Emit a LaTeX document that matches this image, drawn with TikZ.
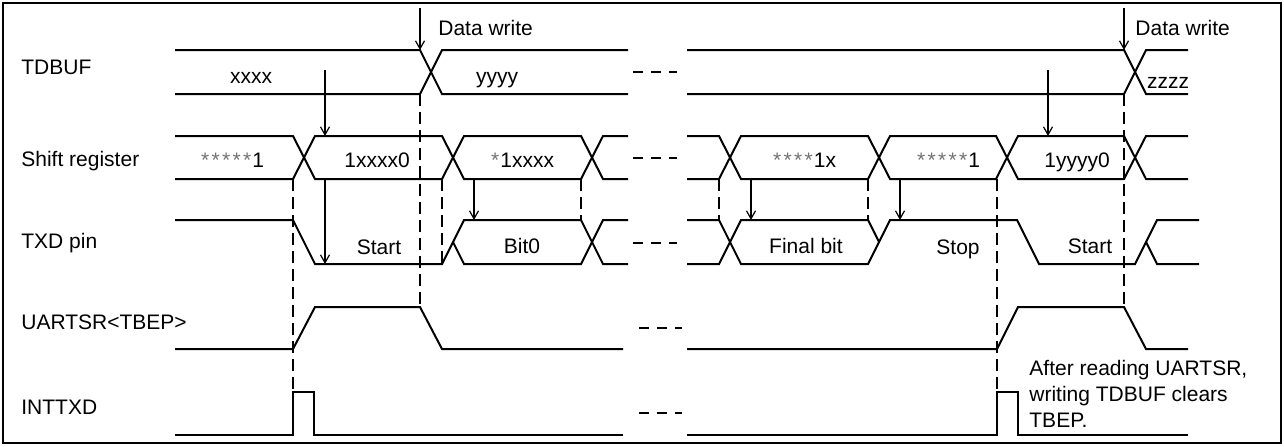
\documentclass[tikz,border=0pt]{standalone}
\usepackage{fontspec}
\setmainfont{Liberation Sans}
\usetikzlibrary{arrows.meta}
\newcommand{\srstar}{\textcolor{black!55}{\makebox[0.5em]{*}}}

\begin{document}
\begin{tikzpicture}[x=0.5pt, y=-0.5pt, font=\fontsize{10.5}{12.9}\selectfont,
    wave/.style={line width=1pt},
    guide/.style={line width=0.6pt, dash pattern=on 6pt off 3pt},
    ptr/.style={line width=0.6pt, -{Straight Barb[length=4pt,width=4.5pt]}},
    gapmark/.style={line width=1pt, dash pattern=on 5pt off 4pt},
    lbl/.style={anchor=base west, inner sep=0pt},
    val/.style={anchor=base, inner sep=0pt}]
    \useasboundingbox (0,0) rectangle (1284,446);
    \draw[line width=0.8pt] (3,3) rectangle (1281,443);
    % signal names
    \node[lbl] (nTDBUF) at (21,74) {TDBUF};
    \node[lbl] (nSR) at (21,166) {Shift register};
    \node[lbl] (nTXD) at (21,248) {TXD pin};
    \node[lbl] (nTBEP) at (21,329) {UARTSR<TBEP>};
    \node[lbl] (nINT) at (21,414) {INTTXD};
    % TDBUF
    \draw[wave] (175,50) -- (420,50) -- (442,94) -- (628,94);
    \draw[wave] (175,94) -- (420,94) -- (442,50) -- (628,50);
    \draw[gapmark] (633,72) -- (677,72);
    \draw[wave] (687,50) -- (1124,50) -- (1146,94) -- (1188,94);
    \draw[wave] (687,94) -- (1124,94) -- (1146,50) -- (1188,50);
    \node[val] (vX) at (251,83) {xxxx};
    \node[val] (vY) at (497,83) {yyyy};
    \node[val] (vZ) at (1168,88) {zzzz};
    \node[lbl] (wr1) at (438,35) {Data write};
    \node[lbl] (wr2) at (1135,35) {Data write};
    % shift register
    \draw[wave] (175,136) -- (293,136) -- (315,179) -- (442,179) -- (464,136) -- (581,136) -- (603,179) -- (628,179);
    \draw[wave] (175,179) -- (293,179) -- (315,136) -- (442,136) -- (464,179) -- (581,179) -- (603,136) -- (628,136);
    \draw[gapmark] (633,158) -- (677,158);
    \draw[wave] (687,136) -- (719,136) -- (741,179) -- (868,179) -- (890,136) -- (996,136) -- (1018,179) -- (1124,179) -- (1146,136) -- (1188,136);
    \draw[wave] (687,179) -- (719,179) -- (741,136) -- (868,136) -- (890,179) -- (996,179) -- (1018,136) -- (1124,136) -- (1146,179) -- (1188,179);
    \node[val] (s1) at (232,167) {\srstar\srstar\srstar\srstar\srstar1};
    \node[val] (s2) at (377,167) {1xxxx0};
    \node[val] (s3) at (522,167) {\srstar1xxxx};
    \node[val] (s4) at (804,167) {\srstar\srstar\srstar\srstar1x};
    \node[val] (s5) at (948,167) {\srstar\srstar\srstar\srstar\srstar1};
    \node[val] (s6) at (1077,167) {1yyyy0};
    % TXD pin
    \draw[wave] (175,220) -- (293,220) -- (315,264) -- (442,264) -- (453,242) -- (464,220) -- (581,220) -- (603,264) -- (628,264);
    \draw[wave] (453,242) -- (464,264) -- (581,264) -- (603,220) -- (628,220);
    \draw[gapmark] (633,243) -- (677,243);
    \draw[wave] (687,220) -- (719,220) -- (741,264) -- (868,264) -- (879,242) -- (890,220) -- (1017,220) -- (1039,264) -- (1135,264) -- (1146,242) -- (1157,220) -- (1199,220);
    \draw[wave] (687,264) -- (719,264) -- (741,220) -- (868,220) -- (879,242);
    \draw[wave] (1146,242) -- (1157,264) -- (1199,264);
    \node[val] (t1) at (379,254) {Start};
    \node[val] (t2) at (522,253) {Bit0};
    \node[val] (t3) at (806,253) {Final bit};
    \node[val] (t4) at (958,254) {Stop};
    \node[val] (t5) at (1090,253) {Start};
    % UARTSR<TBEP>
    \draw[wave] (175,349) -- (293,349) -- (315,307) -- (420,307) -- (442,349) -- (623,349);
    \draw[gapmark] (639,328) -- (682,328);
    \draw[wave] (687,349) -- (997,349) -- (1018,307) -- (1124,307) -- (1146,349) -- (1188,349);
    % INTTXD
    \draw[wave] (175,435) -- (293,435) -- (293,392) -- (314,392) -- (314,435) -- (623,435);
    \draw[gapmark] (639,413) -- (682,413);
    \draw[wave] (687,435) -- (997,435) -- (997,392) -- (1018,392) -- (1018,435) -- (1188,435);
    \node[anchor=north west, inner sep=0pt, align=left] (note) at (1029,360)
        {After reading UARTSR,\\writing TDBUF clears\\TBEP.};
    % timing guides
    \foreach \x/\ya/\yb in {293/179/392, 420/94/307, 442/179/264, 581/179/220,
                            719/179/220, 868/179/220, 997/179/392, 1124/94/307}{
        \draw[guide] (\x,\ya) -- (\x,\yb);
    }
    % arrows
    \draw[ptr] (420,8) -- (420,50);
    \draw[ptr] (1124,8) -- (1124,50);
    \draw[ptr] (325,70) -- (325,136);
    \draw[ptr] (1048,70) -- (1048,136);
    \draw[ptr] (325,179) -- (325,264);
    \draw[ptr] (474,179) -- (474,220);
    \draw[ptr] (751,179) -- (751,220);
    \draw[ptr] (900,179) -- (900,220);
\end{tikzpicture}
\end{document}
